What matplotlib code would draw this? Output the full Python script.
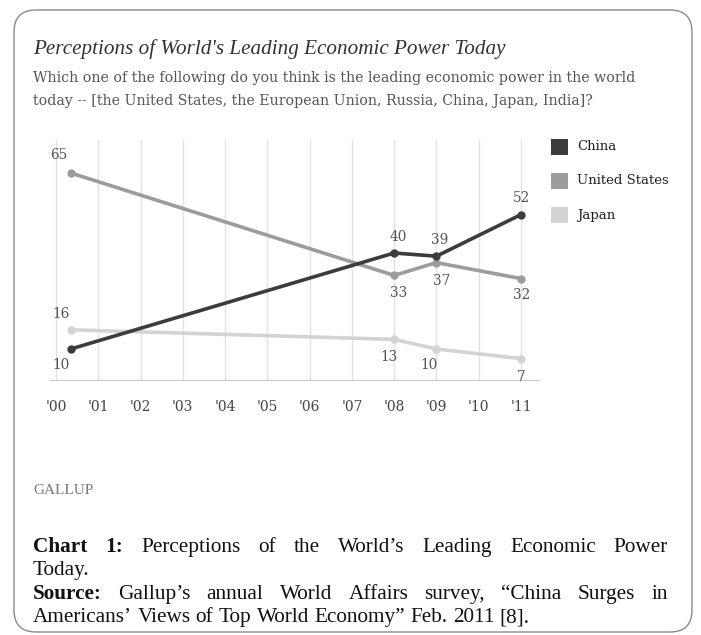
import matplotlib.pyplot as plt
from matplotlib.patches import FancyBboxPatch, Rectangle

# values (2000 point sits a bit right of the '00 tick)
years = [2000.35, 2008, 2009, 2011]
china = [10, 40, 39, 52]
usa = [65, 33, 37, 32]
japan = [16, 13, 10, 7]
tick_years = list(range(2000, 2012))
tick_labels = ["'00", "'01", "'02", "'03", "'04", "'05", "'06", "'07", "'08", "'09", "'10", "'11"]
series_names = ['China', 'United States', 'Japan']

W, H = 701, 635
fig = plt.figure(figsize=(W / 100, H / 100), dpi=100)

# background axes in pixel coordinates for the frame and all the text
bg = fig.add_axes([0, 0, 1, 1])
bg.set_xlim(0, W)
bg.set_ylim(H, 0)
bg.axis('off')

frame = FancyBboxPatch((14, 10), 678, 622, boxstyle='round,pad=0,rounding_size=22',
                       fc='white', ec='#8a8a8a', lw=1.0)
bg.add_patch(frame)

serif = ['DejaVu Serif']
bg.text(33, 49, "Perceptions of World's Leading Economic Power Today", family='Liberation Serif',
        style='italic', fontsize=15.2, color='#333333', va='center')
bg.text(33, 78, "Which one of the following do you think is the leading economic power in the world",
        family=serif, fontsize=10.2, color='#555555', va='center')
bg.text(33, 101, "today -- [the United States, the European Union, Russia, China, Japan, India]?",
        family=serif, fontsize=10.2, color='#555555', va='center')
bg.text(33, 490, 'GALLUP', family='Liberation Serif', fontsize=11, color='#777777', va='center')

# chart axes
x0, x1 = 50, 540
y_top, y_zero = 140, 381
px_per_year = 42.27
ax = fig.add_axes([x0 / W, (H - y_zero) / H, (x1 - x0) / W, (y_zero - y_top) / H])
ax.set_xlim(2000 - 6 / px_per_year, 2000 + (x1 - x0 - 6) / px_per_year)
ax.set_ylim(0, (y_zero - y_top) / 3.2)
ax.patch.set_alpha(0)
for s in ax.spines.values():
    s.set_visible(False)
ax.set_yticks([])
ax.set_xticks(tick_years)
ax.set_xticklabels(tick_labels, family=serif, fontsize=10, color='#444444')
ax.tick_params(axis='x', length=0, pad=14)
for yr in tick_years:
    ax.axvline(yr, color='#e2e2e2', lw=1.0, zorder=0)
ax.axhline(0, color='#c8c8c8', lw=1.5, zorder=1)

colors = {'China': '#3c3c3c', 'United States': '#9c9c9c', 'Japan': '#d3d3d3'}
data = {'China': china, 'United States': usa, 'Japan': japan}
for name in ['Japan', 'United States', 'China']:
    ax.plot(years, data[name], color=colors[name], lw=2.6, marker='o', ms=5,
            solid_capstyle='round', zorder=3)

# data labels: (series, index, dx px, dy px)
label_pos = [
    ('United States', 0, -12, 18), ('Japan', 0, -10, 16), ('China', 0, -10, -16),
    ('China', 1, 4, 16), ('United States', 1, 4, -18),
    ('China', 2, 3, 16), ('United States', 2, 5, -18),
    ('Japan', 1, -5, -18), ('Japan', 2, -7, -16),
    ('China', 3, 1, 17), ('United States', 3, 1, -16), ('Japan', 3, 0, -18),
]
for name, i, dx, dy in label_pos:
    ax.annotate(str(data[name][i]), (years[i], data[name][i]), xytext=(dx, dy),
                textcoords='offset pixels', ha='center', va='center',
                family=serif, fontsize=9.8, color='#555555')

# legend
for k, name in enumerate(series_names):
    yc = 147 + k * 34
    bg.add_patch(Rectangle((551, yc - 8), 17, 16, fc=colors[name], ec='none'))
    bg.text(577, yc, name, family=serif, fontsize=9.5, color='#222222', va='center')

# caption, justified like the journal page
renderer = fig.canvas.get_renderer()


def draw_line(words, y, xl, xr=None, size=15.3):
    arts = []
    for txt, bold in words:
        t = bg.text(0, y, txt, family='Liberation Serif', fontsize=size,
                    weight='bold' if bold else 'normal', color='#111111', va='baseline')
        arts.append((t, t.get_window_extent(renderer).width))
    total = sum(w for _, w in arts)
    if xr is None:
        space = 0.25 * size * 100 / 72
    else:
        space = (xr - xl - total) / (len(arts) - 1)
    x = xl
    for t, w in arts:
        t.set_x(x)
        x += w + space


def words_of(s, bold_first=0):
    parts = s.split(' ')
    return [(p, i < bold_first) for i, p in enumerate(parts)]


draw_line(words_of("Chart 1: Perceptions of the World\u2019s Leading Economic Power", 2), 552, 33, 668)
draw_line(words_of("Today."), 575, 33)
draw_line(words_of("Source: Gallup\u2019s annual World Affairs survey, \u201cChina Surges in", 1), 599, 33, 668)
draw_line(words_of("Americans\u2019 Views of Top World Economy\u201d Feb. 2011 [8]."), 622, 33)

fig.savefig('out.png', dpi=100)
